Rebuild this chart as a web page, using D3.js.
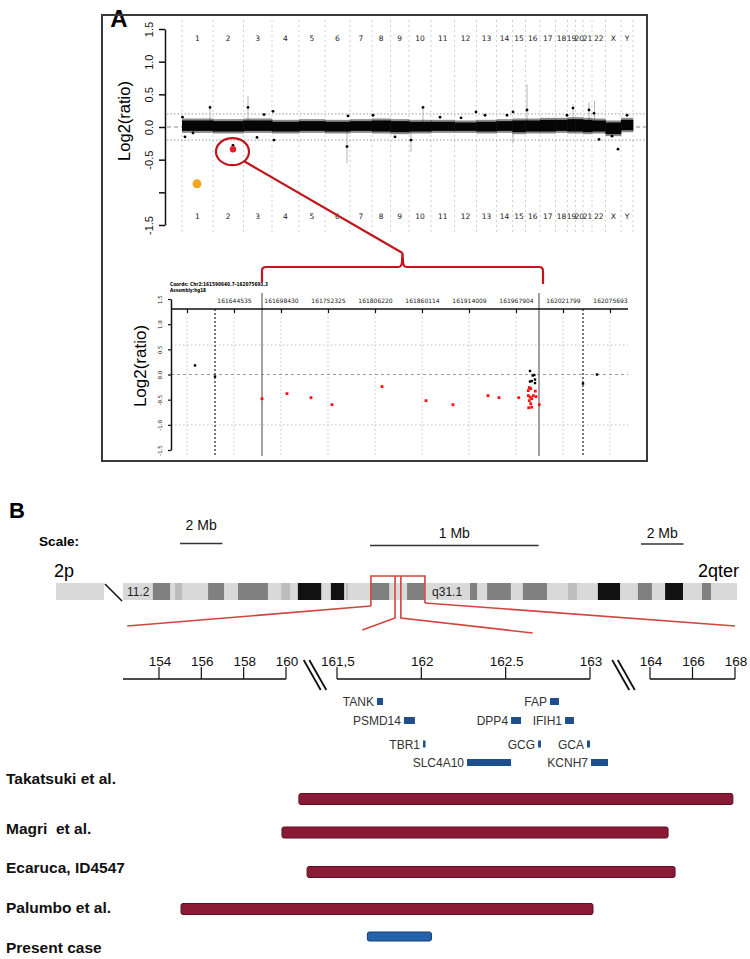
<!DOCTYPE html>
<html><head><meta charset="utf-8">
<script src="https://cdn.jsdelivr.net/npm/d3@7"></script>
<style>body{margin:0;background:#fff}svg{display:block}</style>
</head><body>
<svg id="c" width="750" height="959"></svg>
<script>
// ================= DATA =================
// Panel A - genome-wide plot
const chromosomes = ["1","2","3","4","5","6","7","8","9","10","11","12","13","14","15","16","17","18","19","20","21","22","X","Y"];
const chrProbesK = [12.4,12.2,11.4,10.8,10.4,10.0,8.8,7.4,7.4,8.8,9.4,8.8,8.0,6.4,5.2,5.8,6.2,4.8,3.2,3.0,3.6,5.4,6.2,4.8];
const bandHi = [0.13,0.12,0.13,0.11,0.12,0.11,0.12,0.13,0.12,0.11,0.11,0.10,0.11,0.12,0.13,0.13,0.14,0.14,0.15,0.15,0.14,0.13,0.10,0.14];
const bandLo = [-0.09,-0.10,-0.09,-0.10,-0.09,-0.10,-0.09,-0.10,-0.11,-0.10,-0.09,-0.09,-0.10,-0.09,-0.11,-0.10,-0.10,-0.09,-0.10,-0.10,-0.11,-0.10,-0.14,-0.08];
const outliers = [[0.2,0.15],[1.2,-0.15],[4.4,-0.09],[11.2,0.3],[26.4,0.30],[30,-0.16],[32.8,0.19],[36.4,0.24],[36.8,-0.2],[20.4,-0.28],
  [66,-0.3],[66.4,0.17],[76.4,0.18],[85.2,-0.15],[91.6,-0.2],[96.4,0.3],[103.2,0.15],[111.6,0.14],[117.6,0.23],[121.2,0.18],
  [130,0.18],[132.4,0.23],[138,0.26],[154,0.18],[156.4,0.29],[162.8,0.26],[164.8,0.21],[166.8,-0.19],[172,-0.14],[174.4,-0.34],[178,0.18]];
const spikes = [[11.2,0.33,0.0],[26.4,0.47,0.1],[66,0.0,-0.56],[91.6,0.0,-0.38],[96.4,0.32,0.0],[132.4,0.0,-0.25],[138,0.65,0.05],[156.4,0.35,0.05],[162.8,0.38,0.0],[165,0.4,0.0]];
const redPoint = [20.4,-0.34];
const orangePoint = [6,-0.87];
const topYTicks = [1.5,1,0.5,0,-0.5,-1,-1.5];
const topYTickLabels = ["1.5","1.0","0.5","0.0","-0.5","","-1.5"];
const thresholdLines = [0.2,-0.2];

// Panel A - zoomed region
const insetCoordsText = "Coords: Chr2:161590640.7-162075693.3";
const insetAssemblyText = "Assembly:hg18";
const insetTicks = [161590640,161644535,161698430,161752325,161806220,161860114,161914009,161967904,162021799,162075693];
const insetTickLabels = ["","161644535","161698430","161752325","161806220","161860114","161914009","161967904","162021799","162075693"];
const insetYTicks = [1.5,1,0.5,0,-0.5,-1,-1.5];
const insetYTickLabels = ["1.5","1.0","0.5","0.0","-0.5","-1.0","-1.5"];
const insetGridY = [0.585,-1];
const deletionBounds = [161676643,161994281];
const flankBounds = [161622748,162044733];
const insetBlack = [[161599814,0.18],[161622748,-0.04],[161983958,0.07],[161988889,-0.01],[161987054,-0.02],[161989692,-0.10],
  [161983958,-0.14],[161985907,-0.13],[161989692,-0.17],[162044733,-0.18],[162060787,0.0]];
const insetRed = [[161676643,-0.48],[161705310,-0.38],[161732831,-0.46],[161756912,-0.60],[161814247,-0.24],[161864702,-0.52],
  [161895663,-0.60],[161935797,-0.42],[161948411,-0.46],[161971000,-0.46],[161983155,-0.26],[161982008,-0.32],[161984760,-0.28],
  [161990035,-0.33],[161982008,-0.42],[161983958,-0.45],[161985907,-0.48],[161983155,-0.52],[161987742,-0.42],[161990838,-0.44],
  [161984760,-0.58],[161982467,-0.66],[161985907,-0.65],[161994622,-0.60]];

// Panel B - ideogram (Mb, chr2 from p11.2 to qter)
const ideoDomain = [85,243];
const ideoBands = [[92.7,97.1,"gpos75"],[98.4,100.2,"gpos25"],[106.9,111.0,"gpos75"],[114.6,122.3,"gpos75"],[125.7,128.0,"gpos25"],
  [130.0,136.0,"gpos100"],[138.5,141.9,"gpos100"],[142.4,142.9,"gpos25"],[148.8,153.5,"gpos75"],[158.1,162.5,"gpos75"],
  [174.3,176.1,"gpos75"],[178.7,184.8,"gpos75"],[187.9,194.1,"gpos75"],[199.5,201.8,"gpos25"],[207.2,212.9,"gpos100"],
  [217.5,221.1,"gpos75"],[224.5,229.1,"gpos100"],[234.0,236.3,"gpos75"]];
const ideoLabels = [["11.2",88.9],["q31.1",168.4]];
const zoomOuter = [148.8,162.7];   // on ideogram
const zoomInner = [155.0,156.5];   // on ideogram
const zoomOuterTarget = [152.5,168];     // on axis
const zoomInnerTarget = [161.65,162.66]; // on axis

// Panel B - broken genomic axis (Mb)
const axisSegments = [[152.3,160],[161.5,163],[164,168]];
const axisTicks = [154,156,158,160,161.5,162,162.5,163,164,166,168];
const axisTickLabels = ["154","156","158","160","161,5","162","162.5","163","164","166","168"];
const scaleBars = [["2 Mb",2,0],["1 Mb",1,1],["2 Mb",2,2]];

// genes: name, start, end (Mb), row
const genes = [["TANK",161.737,161.773,0],["FAP",162.763,162.816,0],["PSMD14",161.897,161.962,1],["DPP4",162.532,162.591,1],
  ["IFIH1",162.852,162.905,1],["TBR1",162.010,162.022,2],["GCG",162.692,162.709,2],["GCA",162.982,163.0,2],
  ["SLC4A10",162.271,162.532,3],["KCNH7",163.017,163.3,3]];

// deletions: label, start, end (Mb), kind
const cases = [["Takatsuki et al.",160.38,167.9,"ref"],["Magri  et al.",159.81,164.85,"ref"],["Ecaruca, ID4547",160.62,165.18,"ref"],
  ["Palumbo et al.",155.04,163.05,"ref"],["Present case",161.68,162.06,"present"]];

// ================= DRAW =================
const svg = d3.select("#c");
const SANS = "'Liberation Sans', Arial, sans-serif";
const DJ = "'DejaVu Sans', sans-serif";
svg.append("rect").attr("width",750).attr("height",959).attr("fill","#fff");
const RED = "#c0161e";

// ---------- Panel A ----------
svg.append("text").attr("x",119).attr("y",27).attr("text-anchor","middle")
  .attr("font-family",SANS).attr("font-weight","bold").attr("font-size",24).text("A");
svg.append("rect").attr("x",102).attr("y",15).attr("width",545).attr("height",446)
  .attr("fill","none").attr("stroke","#3a3a3a").attr("stroke-width",2);

const chrCum = [0];
chrProbesK.forEach(v => chrCum.push(chrCum[chrCum.length-1] + v));
const total = chrCum[chrCum.length-1];
const xTop = d3.scaleLinear().domain([0,total]).range([182,633]);
const yTop = d3.scaleLinear().domain([-1.5,1.5]).range([225,29]);
const gA = svg.append("g");

// chromosome boundaries
gA.selectAll(".cb").data(chrCum).join("line")
  .attr("x1",d=>xTop(d)).attr("x2",d=>xTop(d)).attr("y1",20).attr("y2",232)
  .attr("stroke","#cfcfcf").attr("stroke-width",1).attr("stroke-dasharray","2,3");
// threshold and zero lines
gA.selectAll(".th").data(thresholdLines).join("line")
  .attr("x1",167).attr("x2",646).attr("y1",d=>yTop(d)).attr("y2",d=>yTop(d))
  .attr("stroke","#9a9a9a").attr("stroke-width",1).attr("stroke-dasharray","1.5,2");
gA.append("line").attr("x1",167).attr("x2",646).attr("y1",yTop(0)).attr("y2",yTop(0))
  .attr("stroke","#888").attr("stroke-width",1).attr("stroke-dasharray","4,3");
// spikes
gA.selectAll(".sp").data(spikes).join("line")
  .attr("x1",d=>xTop(d[0])).attr("x2",d=>xTop(d[0])).attr("y1",d=>yTop(d[1])).attr("y2",d=>yTop(d[2]))
  .attr("stroke","#b5b5b5").attr("stroke-width",1);
// dense band of probes: soft fringe + solid core
gA.selectAll(".bandF").data(chromosomes).join("rect")
  .attr("x",(d,i)=>xTop(chrCum[i])).attr("width",(d,i)=>xTop(chrCum[i+1])-xTop(chrCum[i])+0.3)
  .attr("y",(d,i)=>yTop(bandHi[i])).attr("height",(d,i)=>yTop(bandLo[i])-yTop(bandHi[i]))
  .attr("fill","#000").attr("opacity",0.45);
gA.selectAll(".bandC").data(chromosomes).join("rect")
  .attr("x",(d,i)=>xTop(chrCum[i])).attr("width",(d,i)=>xTop(chrCum[i+1])-xTop(chrCum[i])+0.3)
  .attr("y",(d,i)=>yTop(bandHi[i])+2).attr("height",(d,i)=>yTop(bandLo[i])-yTop(bandHi[i])-4)
  .attr("fill","#050505");
gA.selectAll(".ol").data(outliers).join("circle")
  .attr("cx",d=>xTop(d[0])).attr("cy",d=>yTop(d[1])).attr("r",1.4).attr("fill","#000");
// chromosome labels
[41,219].forEach(yy=>{
  gA.selectAll(null).data(chromosomes).join("text")
    .attr("x",(d,i)=>xTop((chrCum[i]+chrCum[i+1])/2)).attr("y",yy)
    .attr("text-anchor","middle").attr("font-family",DJ).attr("font-size",7.5).attr("fill","#222").text(d=>d);
});
// y axis
const axL = gA.append("g").attr("transform","translate(165,0)")
  .call(d3.axisLeft(yTop).tickValues(topYTicks).tickFormat((d,i)=>topYTickLabels[i]).tickSize(6).tickSizeOuter(0));
axL.select(".domain").attr("stroke","#111").attr("stroke-width",1.5);
axL.selectAll(".tick line").attr("stroke","#111").attr("stroke-width",1.5);
axL.selectAll(".tick text").attr("transform","rotate(-90)").attr("x",0).attr("y",-12).attr("dy",0)
  .attr("text-anchor","middle").attr("font-family",SANS).attr("font-size",11).attr("fill","#111");
gA.append("text").attr("transform","translate(130,121) rotate(-90)").attr("text-anchor","middle")
  .attr("font-family",SANS).attr("font-size",16.5).text("Log2(ratio)");
// orange and red points
gA.append("circle").attr("cx",xTop(orangePoint[0])).attr("cy",yTop(orangePoint[1])).attr("r",4.5).attr("fill","#f5a623");
gA.append("circle").attr("cx",xTop(redPoint[0])).attr("cy",yTop(redPoint[1])).attr("r",3.2).attr("fill","#e8202a");
const ex = xTop(redPoint[0]) - 0.5, ey = yTop(redPoint[1]) + 2.5, erx = 16.5, ery = 13.5;
gA.append("ellipse").attr("cx",ex).attr("cy",ey).attr("rx",erx).attr("ry",ery)
  .attr("fill","none").attr("stroke",RED).attr("stroke-width",2.2);

// inset
const xIn = d3.scaleLinear().domain([insetTicks[0],insetTicks[insetTicks.length-1]]).range([187,610]);
const yIn = d3.scaleLinear().domain([-1.5,1.5]).range([450,299]);
const gI = svg.append("g");
gI.append("text").attr("x",170).attr("y",286).attr("font-family",DJ).attr("font-weight","bold").attr("font-size",5.4)
  .attr("textLength",98).attr("lengthAdjust","spacingAndGlyphs").text(insetCoordsText);
gI.append("text").attr("x",170).attr("y",291.5).attr("font-family",DJ).attr("font-weight","bold").attr("font-size",5.4)
  .attr("textLength",36).attr("lengthAdjust","spacingAndGlyphs").text(insetAssemblyText);
// grids
gI.selectAll(".vg").data(insetTicks).join("line")
  .attr("x1",d=>xIn(d)).attr("x2",d=>xIn(d)).attr("y1",309).attr("y2",456)
  .attr("stroke","#c4c4c4").attr("stroke-width",1).attr("stroke-dasharray","1.5,2.5");
gI.selectAll(".hg").data(insetGridY).join("line")
  .attr("x1",171).attr("x2",628).attr("y1",d=>yIn(d)).attr("y2",d=>yIn(d))
  .attr("stroke","#c4c4c4").attr("stroke-width",1).attr("stroke-dasharray","1.5,2.5");
gI.append("line").attr("x1",171).attr("x2",628).attr("y1",yIn(0)).attr("y2",yIn(0))
  .attr("stroke","#9a9a9a").attr("stroke-width",1).attr("stroke-dasharray","3,3");
gI.selectAll(".fb").data(flankBounds).join("line")
  .attr("x1",d=>xIn(d)).attr("x2",d=>xIn(d)).attr("y1",309).attr("y2",456)
  .attr("stroke","#555").attr("stroke-width",1.6).attr("stroke-dasharray","2,2");
gI.selectAll(".db").data(deletionBounds).join("line")
  .attr("x1",d=>xIn(d)).attr("x2",d=>xIn(d)).attr("y1",293).attr("y2",456)
  .attr("stroke","#8a8a8a").attr("stroke-width",1.6);
// axes
const axT = gI.append("g").attr("transform","translate(0,309)")
  .call(d3.axisBottom(xIn).tickValues(insetTicks).tickFormat((d,i)=>insetTickLabels[i]).tickSize(4).tickSizeOuter(0));
axT.select(".domain").remove();
axT.selectAll(".tick line").attr("stroke","#111").attr("stroke-width",1.2);
axT.selectAll(".tick text").attr("y",-6).attr("dy",0).attr("font-family",DJ).attr("font-size",6).attr("fill","#222");
gI.append("line").attr("x1",171).attr("x2",628).attr("y1",309).attr("y2",309).attr("stroke","#111").attr("stroke-width",1.5);
const axIL = gI.append("g").attr("transform","translate(171,0)")
  .call(d3.axisLeft(yIn).tickValues(insetYTicks).tickFormat((d,i)=>insetYTickLabels[i]).tickSize(3).tickSizeOuter(0));
axIL.select(".domain").attr("stroke","#111").attr("stroke-width",1.5);
axIL.selectAll(".tick line").attr("stroke","#111").attr("stroke-width",1.2);
axIL.selectAll(".tick text").attr("transform","rotate(-90)").attr("x",0).attr("y",-9).attr("dy",0)
  .attr("text-anchor","middle").attr("font-family",DJ).attr("font-size",5.5).attr("fill","#222");
gI.append("text").attr("transform","translate(146,366) rotate(-90)").attr("text-anchor","middle")
  .attr("font-family",SANS).attr("font-size",17).text("Log2(ratio)");
// points
const ps = 2.4;
gI.selectAll(".pb").data(insetBlack).join("rect")
  .attr("x",d=>xIn(d[0])-ps/2).attr("y",d=>yIn(d[1])-ps/2).attr("width",ps).attr("height",ps).attr("fill","#000");
gI.selectAll(".pr").data(insetRed).join("rect")
  .attr("x",d=>xIn(d[0])-1.4).attr("y",d=>yIn(d[1])-1.4).attr("width",2.8).attr("height",2.8).attr("fill","#ff1010");

// bracket + connector
const bl = xIn(deletionBounds[0]), br = xIn(deletionBounds[1]) + 4, bm = (bl+br)/2;
const by = 267, apexY = 253;
gA.append("path").attr("fill","none").attr("stroke",RED).attr("stroke-width",2.2)
  .attr("d",`M${bl},282 L${bl},${by+4} Q${bl},${by} ${bl+4},${by} L${bm-4},${by} Q${bm-1},${by} ${bm-0.5},${by-5} L${bm},${apexY} L${bm+0.5},${by-5} Q${bm+1},${by} ${bm+4},${by} L${br-4},${by} Q${br},${by} ${br},${by+4} L${br},284`);
gA.append("line").attr("x1",ex+erx*Math.SQRT1_2).attr("y1",ey+ery*Math.SQRT1_2).attr("x2",bm).attr("y2",apexY)
  .attr("stroke",RED).attr("stroke-width",2.2);

// ---------- Panel B ----------
const gB = svg.append("g");
gB.append("text").attr("x",9).attr("y",518).attr("font-family",SANS).attr("font-weight","bold").attr("font-size",22).text("B");
gB.append("text").attr("x",39).attr("y",546).attr("font-family",SANS).attr("font-weight","bold").attr("font-size",13.6).text("Scale:");

// broken axis scale
const xB = d3.scaleLinear()
  .domain([axisSegments[0][0],axisSegments[0][1],axisSegments[1][0],axisSegments[1][1],axisSegments[2][0],axisSegments[2][1]])
  .range([123,286,337,590,650,735]);

// scale bars
const sbStart = [180,370,641], sbLineY = [543.5,545.5,544], sbTextY = [530,538,538];
scaleBars.forEach((s,i)=>{
  const seg = axisSegments[s[2]];
  const len = (xB(seg[1]) - xB(seg[0])) / (seg[1]-seg[0]) * s[1];
  gB.append("line").attr("x1",sbStart[i]).attr("x2",sbStart[i]+len).attr("y1",sbLineY[i]).attr("y2",sbLineY[i])
    .attr("stroke","#333").attr("stroke-width",1.3);
  gB.append("text").attr("x",sbStart[i]+len/2).attr("y",sbTextY[i]).attr("text-anchor","middle")
    .attr("font-family",SANS).attr("font-size",14).attr("fill","#111").text(s[0]);
});

// ideogram
const xId = d3.scaleLinear().domain(ideoDomain).range([123,737]);
const idY = 583, idH = 17;
const stainColor = {gpos100:"#111111", gpos75:"#808080", gpos25:"#bdbdbd"};
gB.append("text").attr("x",54).attr("y",577).attr("font-family",SANS).attr("font-size",18).text("2p");
gB.append("text").attr("x",739).attr("y",577).attr("text-anchor","end").attr("font-family",SANS).attr("font-size",18).text("2qter");
gB.append("rect").attr("x",56).attr("y",idY).attr("width",48).attr("height",idH).attr("fill","#d9d9d9");
gB.append("line").attr("x1",105).attr("y1",584).attr("x2",122).attr("y2",601).attr("stroke","#111").attr("stroke-width",1.6);
gB.append("rect").attr("x",xId(ideoDomain[0])).attr("y",idY).attr("width",xId(ideoDomain[1])-xId(ideoDomain[0])).attr("height",idH).attr("fill","#d9d9d9");
gB.selectAll(".ib").data(ideoBands).join("rect")
  .attr("x",d=>xId(d[0])).attr("width",d=>xId(d[1])-xId(d[0])).attr("y",idY).attr("height",idH)
  .attr("fill",d=>stainColor[d[2]]);
gB.selectAll(".il").data(ideoLabels).join("text")
  .attr("x",d=>xId(d[1])).attr("y",596).attr("text-anchor","middle").attr("font-family",SANS).attr("font-size",12).attr("fill","#222")
  .text(d=>d[0]);

// zoom lines
const RL = "#d2443e";
const zl = (pts)=>gB.append("polyline").attr("points",pts.map(p=>p.join(",")).join(" "))
  .attr("fill","none").attr("stroke",RL).attr("stroke-width",1.6);
zl([[xId(zoomOuter[0]),606],[xId(zoomOuter[0]),576],[xId(zoomOuter[1]),576],[xId(zoomOuter[1]),603]]);
zl([[xId(zoomOuter[0]),606],[xB(zoomOuterTarget[0]),626]]);
zl([[xId(zoomOuter[1]),603],[xB(zoomOuterTarget[1]),626]]);
zl([[xId(zoomInner[0]),576],[xId(zoomInner[0]),618],[xB(zoomInnerTarget[0]),630]]);
zl([[xId(zoomInner[1]),576],[xId(zoomInner[1]),618],[xB(zoomInnerTarget[1]),633]]);

// broken axis
const axY = 679;
axisSegments.forEach(s=>{
  gB.append("line").attr("x1",xB(s[0])).attr("x2",xB(s[1])).attr("y1",axY).attr("y2",axY).attr("stroke","#111").attr("stroke-width",1.7);
});
gB.selectAll(".bt").data(axisTicks).join("line")
  .attr("x1",d=>xB(d)).attr("x2",d=>xB(d)).attr("y1",axY).attr("y2",axY-12).attr("stroke","#111").attr("stroke-width",1.2);
gB.selectAll(".btl").data(axisTicks).join("text")
  .attr("x",d=>xB(d)+1).attr("y",666).attr("text-anchor","middle").attr("font-family",SANS).attr("font-size",13.5).attr("fill","#111")
  .text((d,i)=>axisTickLabels[i]);
[[axisSegments[0][1],axisSegments[1][0]],[axisSegments[1][1],axisSegments[2][0]]].forEach(g=>{
  const c = (xB(g[0])+xB(g[1]))/2 + 3.5;
  [-2.8,2.8].forEach(o=>{
    gB.append("line").attr("x1",c+o-8.5).attr("y1",660).attr("x2",c+o+8.5).attr("y2",690)
      .attr("stroke","#111").attr("stroke-width",1.8);
  });
});

// genes
const rowY = d3.scaleLinear().domain([0,1,2,3]).range([701.5,720.5,744,762.5]);
gB.selectAll(".g").data(genes).join("rect")
  .attr("x",d=>xB(d[1])).attr("width",d=>Math.max(2.5,xB(d[2])-xB(d[1]))).attr("y",d=>rowY(d[3])-3.5).attr("height",7)
  .attr("fill","#1f4e8c");
gB.selectAll(".gl").data(genes).join("text")
  .attr("x",d=>xB(d[1])-3).attr("y",d=>rowY(d[3])+4.5).attr("text-anchor","end")
  .attr("font-family",SANS).attr("font-size",12).attr("fill","#333").text(d=>d[0]);

// deletion bars
const labelY = d3.scaleLinear().domain([0,1,2,3,4]).range([784,834,873,913,953]);
const barY = d3.scaleLinear().domain([0,1,2,3,4]).range([799,832.5,872,909,936.5]);
gB.selectAll(".cl").data(cases).join("text")
  .attr("x",6).attr("y",(d,i)=>labelY(i)).attr("font-family",SANS).attr("font-weight","bold").attr("font-size",15.5)
  .style("white-space","pre").attr("fill","#111").text(d=>d[0]);
gB.selectAll(".cb").data(cases).join("rect")
  .attr("x",d=>xB(d[1])).attr("width",d=>xB(d[2])-xB(d[1]))
  .attr("y",(d,i)=>barY(i)-(d[3]==="present"?4.5:5.5)).attr("height",d=>d[3]==="present"?9:11)
  .attr("rx",2).attr("fill",d=>d[3]==="present"?"#2462ab":"#8b1a36")
  .attr("stroke",d=>d[3]==="present"?"#173f70":"#5a0f21").attr("stroke-width",1);
</script>
</body></html>
